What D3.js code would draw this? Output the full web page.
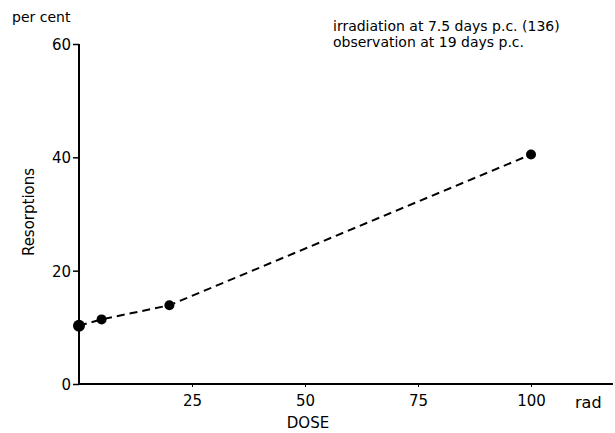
<!DOCTYPE html>
<html><head><meta charset="utf-8">
<script src="https://cdn.jsdelivr.net/npm/d3@7/dist/d3.min.js"></script>
<style>body{margin:0;background:#fff}text{font-family:"DejaVu Sans",sans-serif;fill:#000}</style>
</head><body><svg id="c" width="615" height="433"></svg>
<script>
const doses = [0, 5, 20, 100];
const resorptions = [10.3, 11.4, 13.9, 40.5];
const xTicks = [25, 50, 75, 100];
const yTicks = [0, 20, 40, 60];
const annotation = ["irradiation at 7.5 days p.c. (136)", "observation at 19 days p.c."];

const svg = d3.select("#c");
const x = d3.scaleLinear().domain([0, 100]).range([79, 531]);
const y = d3.scaleLinear().domain([0, 60]).range([384, 44]);

// axes
const yAxis = d3.axisLeft(y).tickValues(yTicks).tickSize(6).tickPadding(2);
const gy = svg.append("g").attr("transform", "translate(79,0)").call(yAxis);
gy.select(".domain").remove();
gy.selectAll(".tick line").attr("stroke-width", 1.5);
gy.selectAll("text").style("font-size", "15px").style("font-family", "DejaVu Sans").attr("dy", "0.36em");
svg.append("line").attr("x1", 79).attr("x2", 79).attr("y1", y(60)).attr("y2", y(0))
  .attr("stroke", "#000").attr("stroke-width", 2);

const xAxis = d3.axisBottom(x).tickValues(xTicks).tickSize(3).tickPadding(8);
const gx = svg.append("g").attr("transform", "translate(0,384)").call(xAxis);
gx.select(".domain").remove();
gx.selectAll("text").style("font-size", "15px").style("font-family", "DejaVu Sans");
svg.append("line").attr("x1", 78).attr("x2", 613).attr("y1", 384).attr("y2", 384)
  .attr("stroke", "#000").attr("stroke-width", 2);

// labels
svg.append("text").attr("x", 12).attr("y", 22).style("font-size", "14px").text("per cent");
svg.append("text").attr("transform", "translate(34,212) rotate(-90)").attr("text-anchor", "middle")
  .style("font-size", "15px").text("Resorptions");
svg.append("text").attr("x", 308).attr("y", 428).attr("text-anchor", "middle").style("font-size", "15px").text("DOSE");
svg.append("text").attr("x", 575).attr("y", 408).style("font-size", "16px").text("rad");
svg.selectAll(".ann").data(annotation).enter().append("text")
  .attr("x", 333).attr("y", (d, i) => 31 + i * 16).style("font-size", "14px").text(d => d);

// line + points
const pts = doses.map((d, i) => [d, resorptions[i]]);
svg.append("path").datum(pts)
  .attr("d", d3.line().x(d => x(d[0])).y(d => y(d[1])))
  .attr("fill", "none").attr("stroke", "#000").attr("stroke-width", 2).attr("stroke-dasharray", "8,5");
svg.selectAll(".pt").data(pts).enter().append("circle")
  .attr("cx", d => x(d[0])).attr("cy", d => y(d[1])).attr("r", (d, i) => i === 0 ? 6 : 5).attr("fill", "#000");
</script></body></html>
